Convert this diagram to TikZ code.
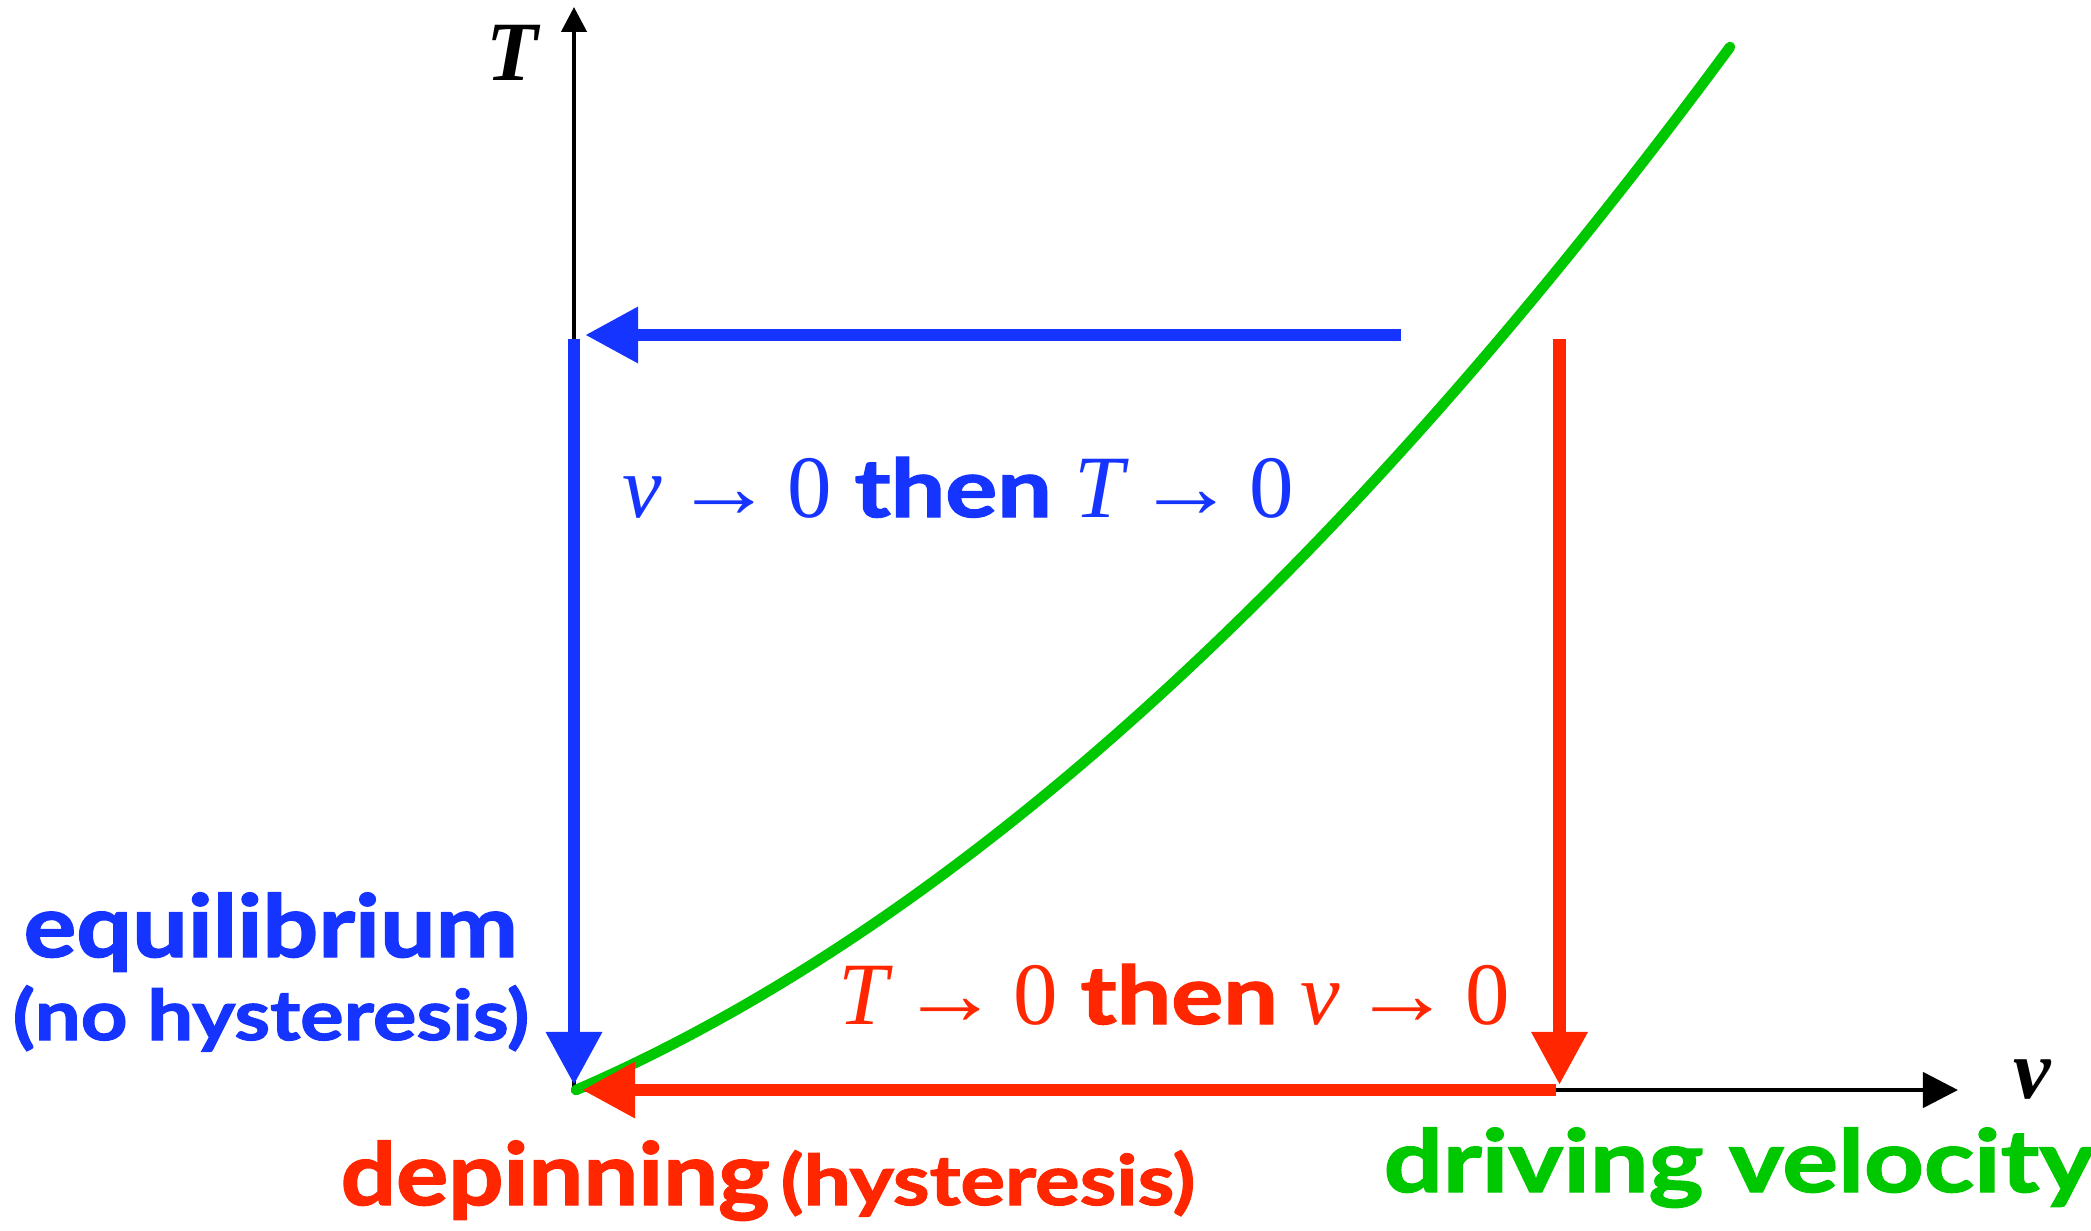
\documentclass[tikz,border=0pt]{standalone}
\usepackage{fontspec}
\setsansfont{Lato}[BoldFeatures={FakeBold=1.6}]
\newfontfamily\serifrm{Liberation Serif}
\usetikzlibrary{arrows.meta}
\definecolor{myblue}{RGB}{22,52,255}
\definecolor{myred}{RGB}{255,38,0}
\definecolor{mygreen}{RGB}{0,200,0}
\newcommand{\mv}{{\serifrm\itshape v}}
\newcommand{\mT}{{\serifrm\itshape T}}
\newcommand{\mto}{\hspace{3.6pt}\scalebox{1.12}[1]{\serifrm →}\hspace{3.6pt}}
\newcommand{\mzero}{{\serifrm 0}}
\newcommand{\mthen}{\hspace{6.5pt}\scalebox{1.2}[1]{\fontsize{23pt}{28pt}\selectfont\sffamily\bfseries then}\hspace{6.5pt}}
\begin{document}
\begin{tikzpicture}[x=0.01cm,y=-0.01cm,
  axisline/.style={line width=1.28pt,black},
  fatblue/.style={line width=3.56pt,myblue},
  fatred/.style={line width=3.56pt,myred},
  bighead/.style={-{Triangle[length=15.1pt,width=15.1pt]}},
  curve/.style={line width=3pt,mygreen,line cap=round},
  lbl/.style={inner sep=0pt,anchor=base west},
  bigsans/.style={font=\fontsize{24.7pt}{28pt}\selectfont\sffamily\bfseries},
  smallsans/.style={font=\fontsize{19.8pt}{24pt}\selectfont\sffamily\bfseries},
  mathlbl/.style={font=\fontsize{25.3pt}{30pt}\selectfont},
  axlbl/.style={inner sep=0pt,font=\fontsize{24pt}{28pt}\selectfont\serifrm\bfseries\itshape}
]
\useasboundingbox (0,0) rectangle (2091,1230);
% coordinates
\coordinate (O) at (571,1090);
\coordinate (Obot) at (574,1093);
\coordinate (Ttop) at (574,7);
\coordinate (vend) at (1958,1090);
\coordinate (bstart) at (1401,335);
\coordinate (bend) at (585,335);
\coordinate (bvtop) at (574,339);
\coordinate (bvtip) at (574,1085);
\coordinate (rvtop) at (1559.5,339);
\coordinate (rvtip) at (1559.5,1085);
\coordinate (rhstart) at (1556,1090);
\coordinate (rhtip) at (582,1090);
\coordinate (gstart) at (576,1090);
\coordinate (gend) at (1730,47);
% axes
\draw[axisline,-{Triangle[length=7.1pt,width=7.1pt]}] (Obot) -- (Ttop);
\draw[axisline,-{Triangle[length=10pt,width=10pt]}] (O) -- (vend);
% green curve
\draw[curve] (gstart) .. controls (955,926) and (1340,575) .. (gend);
% blue and red arrows
\draw[fatblue,bighead] (bstart) -- (bend);
\draw[fatblue,bighead] (bvtop) -- (bvtip);
\draw[fatred,bighead] (rvtop) -- (rvtip);
\draw[fatred,bighead] (rhstart) -- (rhtip);
% axis labels
\node[axlbl] (Tlab) at (512,53) {T};
\node[axlbl] (vlab) at (2032,1080) {v};
% path labels
\node[lbl,mathlbl,text=myblue] (blueLab) at (622,517)
  {\mv\mto\mzero\mthen\mT\mto\mzero};
\node[lbl,mathlbl,text=myred] (redLab) at (838,1024)
  {\mT\mto\mzero\mthen\mv\mto\mzero};
\node[lbl,bigsans,text=myblue] (eq) at (23,957) {\scalebox{1.134}[1]{equilibrium}};
\node[lbl,smallsans,text=myblue] (nohys) at (12,1040) {\scalebox{1.17}[1]{(no hysteresis)}};
\node[lbl,bigsans,text=myred] (dep) at (340,1205) {\scalebox{1.123}[1]{depinning}};
\node[lbl,smallsans,text=myred] (hys) at (780,1205) {\scalebox{1.2}[1]{(hysteresis)}};
\node[lbl,bigsans,text=mygreen] (drv) at (1383,1192) {\scalebox{1.2}[1]{driving velocity}};
\end{tikzpicture}
\end{document}
